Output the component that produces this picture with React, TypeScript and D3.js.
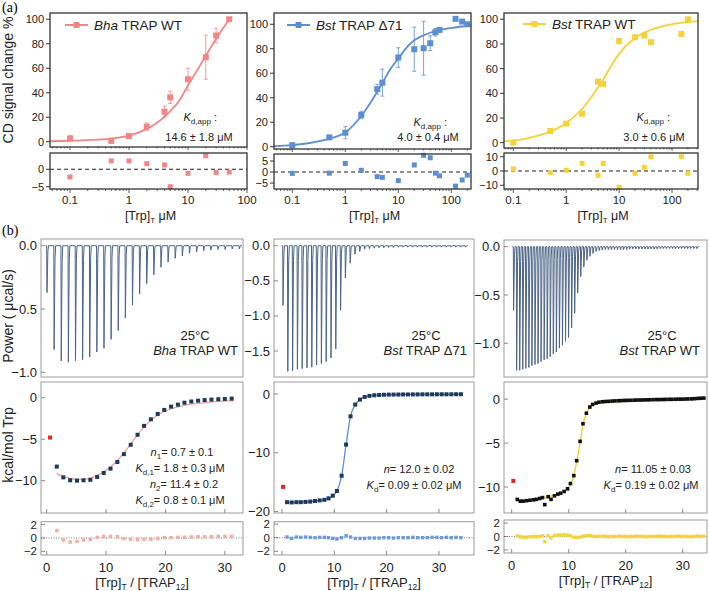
import React from 'react';
import * as d3 from 'd3';

const SANS = '"Liberation Sans", Arial, Helvetica, sans-serif';
const SERIF = '"Liberation Serif", "Times New Roman", serif';
const MINUS = '\u2212';
const fmt = (v: number, digits = 0) => (v < 0 ? MINUS : '') + Math.abs(v).toFixed(digits);

// ---------------- (a) CD titrations ----------------
const bhaConc = [0.1, 0.5, 1, 2, 4, 5, 10, 20, 30, 50];
const bhaSignal = [2.7, 0.8, 4.6, 12.3, 24.5, 36.2, 51, 69, 86.7, 100];
const bhaError = [2, 2, 2, 3, 4.5, 5, 9, 18, 6, 0];
const bhaResidual = [-2.2, 2.4, 2.4, 1.6, 1.25, -5.0, -1.15, 3.9, -0.9, -0.8];
const bhaFitConc = [0.046, 0.1, 0.2, 0.5, 1, 2, 3, 5, 7, 10, 15, 20, 30, 50];
const bhaFitSignal = [0.4, 0.8, 1.3, 2.6, 5.0, 10.5, 15.5, 25, 33, 46, 60, 70, 84, 100];

const d71Conc = [0.1, 0.5, 1, 2, 4, 5, 10, 20, 30, 40, 50, 60, 120, 160, 200];
const d71Signal = [1.1, 7.6, 11.4, 25.9, 46.9, 52.3, 72.8, 79.6, 80.4, 84.5, 93.5, 95.4, 104.4, 102.2, 100];
const d71Error = [2, 1, 5, 3, 4, 11, 8, 18, 22, 6, 3, 1.5, 0, 0, 0];
const d71Residual = [-0.6, -0.5, 3.9, 0.8, -2.1, -2.4, -3.9, 3.2, 7.6, 6.5, -0.5, -1.7, -6.4, -3.6, -1.4];
const d71FitConc = [0.045, 0.1, 0.2, 0.5, 1, 2, 3, 4, 5, 7, 10, 15, 20, 30, 50, 100, 235];
const d71FitSignal = [0.5, 1.2, 2.8, 6.5, 11.5, 25, 36, 45, 52, 63, 72, 82, 87, 91, 94.5, 97, 99];

const bstConc = [0.1, 0.5, 1, 2, 4, 5, 10, 20, 30, 40, 150, 200];
const bstSignal = [0, 9.5, 15.4, 23.5, 49.5, 47.6, 82.4, 85.4, 86.8, 81.4, 88.1, 100];
const bstResidual = [1.4, -1.2, 0.5, 5.3, -3.0, 5.3, -11.4, -1.6, 2.6, 10, 10, -1.6];
const bstFitConc = [0.067, 0.1, 0.2, 0.5, 1, 2, 3, 4, 5, 7, 10, 20, 40, 100, 310];
const bstFitSignal = [1.3, 1.8, 4, 9, 16, 27.5, 37, 45, 51, 62, 72, 85, 91.5, 96, 98.5];

// ---------------- (b) ITC ----------------
// raw injection peaks (µcal/s), one per injection
const bhaPower = [-0.37, -0.82, -0.91, -0.92, -0.91, -0.9, -0.88, -0.84, -0.81, -0.74, -0.67, -0.57, -0.47, -0.38,
  -0.3, -0.23, -0.17, -0.13, -0.1, -0.08, -0.06, -0.05, -0.04, -0.035, -0.03, -0.03, -0.025, -0.025];
const d71Power = [-0.85, -1.79, -1.78, -1.76, -1.75, -1.74, -1.73, -1.7, -1.68, -1.65, -1.6, -1.47, -0.92, -0.46,
  -0.25, -0.12, -0.08, -0.05, -0.04, -0.035, -0.03, -0.03, -0.025, -0.025, -0.02, -0.02, -0.02, -0.02, -0.02,
  -0.02, -0.02, -0.02, -0.02, -0.02, -0.02, -0.02, -0.02, -0.02, -0.02];
const bstPower = [-0.66, -1.28, -1.28, -1.27, -1.26, -1.25, -1.23, -1.22, -1.21, -1.19, -1.17, -1.16, -1.14, -1.11,
  -1.09, -1.05, -1.02, -0.98, -0.94, -0.84, -0.69, -0.48, -0.31, -0.21, -0.14, -0.1, -0.07, -0.05, -0.04, -0.035,
  -0.03, -0.03, -0.03, -0.03, -0.03, -0.03, -0.03, -0.03, -0.025, -0.025, -0.025, -0.025, -0.025, -0.025, -0.025,
  -0.025, -0.025, -0.025, -0.02, -0.02, -0.02, -0.02, -0.02, -0.02, -0.02, -0.02, -0.02, -0.02, -0.02, -0.02, -0.02];

// integrated heats (kcal/mol Trp) vs molar ratio; first injection drawn red
const bhaRatio = [1.7, 2.8, 3.95, 5.1, 6.2, 7.35, 8.5, 9.6, 10.75, 11.9, 13.0, 14.15, 15.3, 16.4, 17.55, 18.7, 19.8,
  20.95, 22.1, 23.2, 24.35, 25.5, 26.6, 27.75, 28.9, 30.0, 31.15];
const bhaHeat = [-8.3, -9.6, -9.95, -10.0, -9.95, -9.9, -9.55, -9.07, -8.55, -7.75, -6.8, -5.67, -4.47, -3.39, -2.6,
  -1.95, -1.47, -1.07, -0.83, -0.6, -0.45, -0.35, -0.28, -0.22, -0.18, -0.14, -0.1];
const bhaFirst = [0.56, -4.8];
const bhaFitRatio = [1.7, 3, 4.5, 6, 7.5, 9, 10.5, 12, 13.5, 15, 16.5, 18, 19.5, 21, 23, 25, 27, 29, 31.5];
const bhaFitHeat = [-9.15, -9.55, -9.8, -9.85, -9.65, -9.2, -8.5, -7.5, -6.2, -4.75, -3.45, -2.45, -1.75, -1.3,
  -0.95, -0.72, -0.55, -0.44, -0.35];
const bhaItcResidual = [1.1, -0.3, -0.6, -0.5, -0.3, -0.2, 0.1, 0.25, 0.25, 0.2, -0.1, -0.2, -0.25, -0.2, -0.2,
  -0.05, 0.05, 0.05, 0.1, 0.1, 0.15, 0.2, 0.2, 0.2, 0.25, 0.25, 0.25];

const d71Ratio = [0.96, 1.85, 2.75, 3.6, 4.5, 5.4, 6.3, 7.2, 8.1, 8.9, 9.7, 10.5, 11.4, 12.25, 13.1, 14.0, 14.9,
  15.8, 16.72, 17.64, 18.56, 19.48, 20.4, 21.32, 22.24, 23.16, 24.08, 25.0, 25.92, 26.84, 27.76, 28.68, 29.6,
  30.52, 31.44, 32.36, 33.28, 34.2];
const d71Heat = [-18.4, -18.45, -18.4, -18.4, -18.35, -18.3, -18.2, -18.1, -18.0, -17.75, -17.3, -16.5, -13.9,
  -8.6, -3.8, -1.8, -0.95, -0.5, -0.32, -0.22, -0.16, -0.13, -0.11, -0.1, -0.09, -0.08, -0.08, -0.07, -0.07,
  -0.06, -0.06, -0.06, -0.05, -0.05, -0.05, -0.05, -0.04, -0.04];
const d71First = [0.2, -15.8];
const d71ItcResidual = [0.1, -0.1, 0.1, 0.05, 0.1, 0.05, 0, 0.05, 0.05, 0, -0.1, -0.2, 0, 0.3, 0.1, -0.1, -0.1,
  -0.1, -0.05, -0.05, -0.05, 0, 0, -0.05, 0, 0, 0, 0.05, 0, 0, 0, 0.05, 0.05, 0, 0.05, 0, 0.05, 0];

const bstRatio = [0.98, 1.5, 2.0, 2.6, 3.2, 3.8, 4.3, 4.9, 5.4, 5.8, 6.4, 6.9, 7.5, 8.1, 8.6, 9.2, 9.8, 10.3, 10.9,
  11.4, 12.0, 12.5, 13.1, 13.7, 14.2, 14.8, 15.3, 15.9, 16.4, 17.0, 17.6, 18.1, 18.7, 19.2, 19.8, 20.3, 20.9,
  21.5, 22.0, 22.6, 23.1, 23.7, 24.2, 24.8, 25.4, 25.9, 26.5, 27.0, 27.6, 28.1, 28.7, 29.3, 29.8, 30.4, 30.9,
  31.5, 32.0, 32.6, 33.1, 33.7];
const bstHeat = [-11.4, -11.6, -11.6, -11.55, -11.5, -11.45, -11.4, -11.3, -11.2, -12.0, -11.1, -11.4, -11.0,
  -10.8, -10.7, -10.5, -10.2, -9.6, -8.7, -7.0, -4.8, -2.8, -1.6, -0.9, -0.6, -0.45, -0.35, -0.3, -0.27, -0.25,
  -0.22, -0.2, -0.18, -0.17, -0.15, -0.14, -0.13, -0.12, -0.1, -0.1, -0.09, -0.08, -0.07, -0.06, -0.05, -0.05,
  -0.04, -0.03, -0.02, -0.02, -0.01, 0, 0, 0.01, 0.02, 0.03, 0.05, 0.08, 0.1, 0.12];
const bstFirst = [0.28, -9.3];
const bstFitRatio = [1, 3, 5, 7, 8.5, 9.5, 10.3, 10.9, 11.4, 12.0, 12.5, 13.1, 13.7, 14.5, 16, 18, 22, 26, 30, 34];
const bstFitHeat = [-11.55, -11.5, -11.3, -11.0, -10.7, -10.35, -9.7, -8.7, -7.1, -4.9, -2.9, -1.6, -0.95, -0.55,
  -0.3, -0.2, -0.1, -0.05, 0, 0.05];
const bstItcResidual = [0.1, -0.05, -0.1, -0.1, -0.05, 0, -0.05, 0, 0.1, -0.75, 0.1, -0.2, 0.15, 0.2, 0.2, 0.25,
  0.2, 0.1, -0.1, -0.15, -0.1, 0.05, 0.1, 0.1, 0.05, 0, 0, 0.05, 0, -0.05, 0, 0, 0.05, 0, 0, -0.05, 0, 0, 0.05, 0,
  0, -0.05, 0, 0, 0, 0.05, 0, 0, -0.05, 0, 0, 0.05, 0, 0, 0, -0.05, 0, 0.05, 0, 0.05];

const itcXTicks = [0, 10, 20, 30];
const itcResidTicks = [2, 0, -2];

// ---------------- CD panel ----------------
type CdProps = {
  x0: number; x1: number; top: number; bottom: number; rTop: number; rBottom: number;
  xDomain: [number, number]; yDomain: [number, number]; rDomain: [number, number]; rTicks: number[];
  color: string; conc: number[]; signal: number[]; error?: number[]; residual: number[];
  fitConc: number[]; fitSignal: number[];
  species: string; variant: string; legendX: number; legendY: number;
  kdEndX: number; kdY: number; kdValue: string; kdValueX: number;
};

function CdPanel(p: CdProps) {
  const x = d3.scaleLog().domain(p.xDomain).range([p.x0, p.x1]);
  const y = d3.scaleLinear().domain(p.yDomain).range([p.bottom, p.top]);
  const r = d3.scaleLinear().domain(p.rDomain).range([p.rBottom, p.rTop]);
  const xTicks = x.ticks();
  const isMajor = (t: number) => Math.abs(Math.log10(t) - Math.round(Math.log10(t))) < 1e-9;
  const fit = d3.line<number>()
    .x(d => x(d))
    .y((_, i) => y(p.fitSignal[i]))
    .curve(d3.curveMonotoneX)(p.fitConc);
  const ink = '#333';
  const s = 6;
  const midX = (p.x0 + p.x1) / 2;

  return (
    <g fontFamily={SANS} fill="#222">
      {/* upper plot */}
      {y.ticks(5).map(t => (
        <g key={'y' + t}>
          <line x1={p.x0 - 4} x2={p.x0} y1={y(t)} y2={y(t)} stroke={ink} />
          <text x={p.x0 - 6} y={y(t) + 4} fontSize={11} textAnchor="end">{t}</text>
        </g>
      ))}
      {xTicks.map((t, i) => (
        <line key={'xu' + i} x1={x(t)} x2={x(t)} y1={p.bottom} y2={p.bottom + (isMajor(t) ? 3 : 1.5)} stroke={ink} strokeWidth={0.8} />
      ))}
      <path d={fit || ''} fill="none" stroke={p.color} strokeWidth={1.8} />
      {p.error && p.conc.map((c, i) => p.error![i] > 0 ? (
        <g key={'e' + i} stroke={p.color} strokeWidth={1} opacity={0.8}>
          <line x1={x(c)} x2={x(c)} y1={y(p.signal[i] - p.error![i])} y2={y(p.signal[i] + p.error![i])} />
          <line x1={x(c) - 2} x2={x(c) + 2} y1={y(p.signal[i] - p.error![i])} y2={y(p.signal[i] - p.error![i])} />
          <line x1={x(c) - 2} x2={x(c) + 2} y1={y(p.signal[i] + p.error![i])} y2={y(p.signal[i] + p.error![i])} />
        </g>
      ) : null)}
      {p.conc.map((c, i) => (
        <rect key={'p' + i} x={x(c) - s / 2} y={y(p.signal[i]) - s / 2} width={s} height={s} fill={p.color} />
      ))}
      <rect x={p.x0} y={p.top} width={p.x1 - p.x0} height={p.bottom - p.top} fill="none" stroke={ink} strokeWidth={1.3} />

      {/* legend */}
      <line x1={p.legendX} x2={p.legendX + 23} y1={p.legendY} y2={p.legendY} stroke={p.color} strokeWidth={2} />
      <rect x={p.legendX + 11.5 - s / 2} y={p.legendY - s / 2} width={s} height={s} fill={p.color} />
      <text x={p.legendX + 29} y={p.legendY + 5} fontSize={13.5}>
        <tspan fontStyle="italic">{p.species}</tspan> {p.variant}
      </text>

      {/* Kd */}
      <text x={p.kdEndX} y={p.kdY} fontSize={11} textAnchor="end">
        <tspan fontStyle="italic">K</tspan>
        <tspan fontSize={8} dy={3}>d,app</tspan>
        <tspan dy={-3}> :</tspan>
      </text>
      <text x={p.kdValueX} y={141} fontSize={11} textAnchor="middle">{p.kdValue}</text>

      {/* residuals */}
      {p.rTicks.map(t => (
        <g key={'r' + t}>
          <line x1={p.x0 - 4} x2={p.x0} y1={r(t)} y2={r(t)} stroke={ink} />
          <text x={p.x0 - 6} y={r(t) + 4} fontSize={11} textAnchor="end">{fmt(t)}</text>
        </g>
      ))}
      <line x1={p.x0} x2={p.x1} y1={r(0)} y2={r(0)} stroke="#222" strokeDasharray="4,3" strokeWidth={1.1} />
      {p.conc.map((c, i) => (
        <rect key={'rp' + i} x={x(c) - 2.5} y={r(p.residual[i]) - 2.5} width={5} height={5} fill={p.color} />
      ))}
      <rect x={p.x0} y={p.rTop} width={p.x1 - p.x0} height={p.rBottom - p.rTop} fill="none" stroke={ink} strokeWidth={1.3} />
      {xTicks.map((t, i) => (
        <line key={'xb' + i} x1={x(t)} x2={x(t)} y1={p.rBottom} y2={p.rBottom + (isMajor(t) ? 4 : 2)} stroke={ink} strokeWidth={0.8} />
      ))}
      {xTicks.filter(isMajor).map(t => (
        <text key={'xl' + t} x={x(t)} y={204} fontSize={11.5} textAnchor="middle">{t < 1 ? t.toFixed(1) : t}</text>
      ))}
      <text x={midX + 2} y={219.5} fontSize={12.5} textAnchor="middle">
        [Trp]<tspan fontSize={8} dy={3}>T</tspan><tspan dy={-3}> μM</tspan>
      </text>
    </g>
  );
}

// ---------------- ITC panel ----------------
type ItcProps = {
  x0: number; x1: number; tTop: number; tBottom: number; mTop: number; mBottom: number; rTop: number; rBottom: number;
  tDomain: [number, number]; tTicks: number[]; tFirst: number; tLast: number; power: number[];
  xDomain: [number, number]; mDomain: [number, number]; mTicks: number[]; rDomain: [number, number];
  ratio: number[]; heat: number[]; first: number[]; fitRatio: number[]; fitHeat: number[];
  fitColor: string; dotColor: string; dot: number; residual: number[]; residColor: string;
  species: string; variant: string; tempX: number; nameEndX: number;
  annotation: React.ReactNode;
};

function ItcPanel(p: ItcProps) {
  const frame = '#9c9c9c';
  const tickInk = '#8a8a8a';
  const w = p.x1 - p.x0;
  const tx = d3.scaleLinear().domain([0, p.power.length - 1]).range([p.tFirst, p.tLast]);
  const ty = d3.scaleLinear().domain(p.tDomain).range([p.tBottom, p.tTop]);
  const x = d3.scaleLinear().domain(p.xDomain).range([p.x0, p.x1]);
  const y = d3.scaleLinear().domain(p.mDomain).range([p.mBottom, p.mTop]);
  const r = d3.scaleLinear().domain(p.rDomain).range([p.rBottom, p.rTop]);

  // thermogram trace: baseline with a narrow dip for every injection
  const trace: [number, number][] = [[tx(0) - 1, ty(0)]];
  p.power.forEach((v, i) => {
    const cx = tx(i);
    trace.push([cx, ty(0)], [cx + 0.3, ty(v)], [cx + 1.2, ty(v * 0.12)], [cx + 1.8, ty(0)]);
  });
  trace.push([tx(p.power.length - 1) + 3, ty(0)]);
  const tracePath = d3.line()(trace);

  const fit = d3.line<number>()
    .x(d => x(d))
    .y((_, i) => y(p.fitHeat[i]))
    .curve(d3.curveMonotoneX)(p.fitRatio);

  const yTickLabels = (scale: d3.ScaleLinear<number, number>, ticks: number[], digits: number, key: string, size = 13) =>
    ticks.map(t => (
      <g key={key + t}>
        <line x1={p.x0} x2={p.x0 + 4} y1={scale(t)} y2={scale(t)} stroke={tickInk} />
        <text x={p.x0 - 4} y={scale(t) + size * 0.35} fontSize={size} textAnchor="end">{fmt(t, digits)}</text>
      </g>
    ));

  return (
    <g fontFamily={SANS} fill="#222">
      {/* thermogram */}
      <rect x={p.x0} y={p.tTop} width={w} height={p.tBottom - p.tTop} fill="none" stroke={frame} />
      {yTickLabels(ty, p.tTicks, 1, 't')}
      <path d={tracePath || ''} fill="none" stroke="#4c6487" strokeWidth={1} />
      <text x={p.tempX} y={340} fontSize={13} textAnchor="middle">25°C</text>
      <text x={p.nameEndX} y={355} fontSize={13} textAnchor="end">
        <tspan fontStyle="italic">{p.species}</tspan> {p.variant}
      </text>

      {/* integrated heats */}
      <rect x={p.x0} y={p.mTop} width={w} height={p.mBottom - p.mTop} fill="none" stroke={frame} />
      {yTickLabels(y, p.mTicks, 0, 'm')}
      {itcXTicks.map(t => (
        <line key={'mx' + t} x1={x(t)} x2={x(t)} y1={p.mBottom} y2={p.mBottom - 4} stroke={tickInk} />
      ))}
      <path d={fit || ''} fill="none" stroke={p.fitColor} strokeWidth={1.3} />
      {p.ratio.map((v, i) => (
        <rect key={'h' + i} x={x(v) - p.dot / 2} y={y(p.heat[i]) - p.dot / 2} width={p.dot} height={p.dot} fill={p.dotColor} />
      ))}
      <rect x={x(p.first[0]) - 2} y={y(p.first[1]) - 2} width={4} height={4} fill="#e8242a" />
      {p.annotation}

      {/* residuals */}
      <rect x={p.x0} y={p.rTop} width={w} height={p.rBottom - p.rTop} fill="none" stroke={frame} />
      {yTickLabels(r, itcResidTicks, 0, 'r', 11.5)}
      <line x1={p.x0} x2={p.x1} y1={r(0)} y2={r(0)} stroke="#555" strokeDasharray="1,1.5" strokeWidth={0.8} />
      {p.ratio.map((v, i) => (
        <rect key={'rr' + i} x={x(v) - 1.7} y={r(p.residual[i]) - 1.7} width={3.4} height={3.4} fill={p.residColor} />
      ))}
      {itcXTicks.map(t => (
        <g key={'rx' + t}>
          <line x1={x(t)} x2={x(t)} y1={p.rBottom} y2={p.rBottom - 4} stroke={tickInk} />
          <text x={x(t)} y={p.rBottom + 17} fontSize={13} textAnchor="middle">{t}</text>
        </g>
      ))}
      <text x={p.x0 + w / 2} y={p.rBottom + 32} fontSize={13} textAnchor="middle">
        [Trp]<tspan fontSize={8.5} dy={3}>T</tspan><tspan dy={-3}> / [TRAP</tspan>
        <tspan fontSize={8.5} dy={3}>12</tspan><tspan dy={-3}>]</tspan>
      </text>
    </g>
  );
}

const Sub = ({ children }: { children: React.ReactNode }) => <tspan fontSize={8} dy={3}>{children}</tspan>;

export default function App() {
  return (
    <svg width={709} height={591} style={{ position: 'absolute', left: 0, top: 0, background: '#fff' }}>
      <rect width={709} height={591} fill="#fff" />
      <text x={2} y={12} fontFamily={SERIF} fontSize={14}>(a)</text>
      <text x={2} y={235} fontFamily={SERIF} fontSize={14}>(b)</text>

      <text transform="translate(13,80) rotate(-90)" fontFamily={SANS} fontSize={14} textAnchor="middle" fill="#222">CD signal change %</text>
      <text transform="translate(13,316) rotate(-90)" fontFamily={SANS} fontSize={14} textAnchor="middle" fill="#222">Power ( μcal/s)</text>
      <text transform="translate(13,445) rotate(-90)" fontFamily={SANS} fontSize={14} textAnchor="middle" fill="#222">kcal/mol Trp</text>

      <CdPanel x0={50} x1={247} top={13} bottom={147} rTop={153} rBottom={189}
        xDomain={[0.0458, 100.01]} yDomain={[-4.3, 105.1]} rDomain={[-5.66, 4.68]} rTicks={[0, -5]}
        color="#f08686" conc={bhaConc} signal={bhaSignal} error={bhaError} residual={bhaResidual}
        fitConc={bhaFitConc} fitSignal={bhaFitSignal} species="Bha" variant="TRAP WT" legendX={65} legendY={25}
        kdEndX={217} kdY={121} kdValue="14.6 ± 1.8 μM" kdValueX={199} />
      <CdPanel x0={274} x1={471} top={13} bottom={149} rTop={154} rBottom={189}
        xDomain={[0.0452, 235]} yDomain={[-1.9, 109.2]} rDomain={[-7.7, 8.2]} rTicks={[5, 0, -5]}
        color="#5b8fd2" conc={d71Conc} signal={d71Signal} error={d71Error} residual={d71Residual}
        fitConc={d71FitConc} fitSignal={d71FitSignal} species="Bst" variant="TRAP Δ71" legendX={287} legendY={25}
        kdEndX={447} kdY={126} kdValue="4.0 ± 0.4 μM" kdValueX={428} />
      <CdPanel x0={504} x1={698} top={13} bottom={148} rTop={153} rBottom={189}
        xDomain={[0.0667, 310]} yDomain={[-4.3, 105.1]} rDomain={[-12.6, 12.6]} rTicks={[10, 0, -10]}
        color="#f4d33a" conc={bstConc} signal={bstSignal} residual={bstResidual}
        fitConc={bstFitConc} fitSignal={bstFitSignal} species="Bst" variant="TRAP WT" legendX={523} legendY={24}
        kdEndX={670} kdY={121} kdValue="3.0 ± 0.6 μM" kdValueX={654} />

      <ItcPanel x0={41} x1={243} tTop={239} tBottom={377} mTop={382} mBottom={513} rTop={521.7} rBottom={555}
        tDomain={[-1.037, 0.053]} tTicks={[0, -0.5, -1]} tFirst={46.7} tLast={239} power={bhaPower}
        xDomain={[-0.96, 33.06]} mDomain={[-13.9, 1.9]} mTicks={[0, -5, -10]} rDomain={[-2.54, 2.43]}
        ratio={bhaRatio} heat={bhaHeat} first={bhaFirst} fitRatio={bhaFitRatio} fitHeat={bhaFitHeat}
        fitColor="#f3a29a" dotColor="#1d3a5c" dot={4} residual={bhaItcResidual} residColor="#f5aaa2"
        species="Bha" variant="TRAP WT" tempX={195} nameEndX={238}
        annotation={
          <g fontSize={11} textAnchor="middle">
            <text x={182} y={456}><tspan fontStyle="italic">n</tspan><Sub>1</Sub><tspan dy={-3}>= 0.7 ± 0.1</tspan></text>
            <text x={180} y={472}><tspan fontStyle="italic">K</tspan><Sub>d,1</Sub><tspan dy={-3}>= 1.8 ± 0.3 μM</tspan></text>
            <text x={184} y={488}><tspan fontStyle="italic">n</tspan><Sub>2</Sub><tspan dy={-3}>= 11.4 ± 0.2</tspan></text>
            <text x={180} y={504}><tspan fontStyle="italic">K</tspan><Sub>d,2</Sub><tspan dy={-3}>= 0.8 ± 0.1 μM</tspan></text>
          </g>
        } />
      <ItcPanel x0={274} x1={474} tTop={239} tBottom={377} mTop={382} mBottom={513} rTop={521.7} rBottom={555}
        tDomain={[-1.87, 0.096]} tTicks={[0, -0.5, -1, -1.5]} tFirst={282.7} tLast={465} power={d71Power}
        xDomain={[-1.53, 36.7]} mDomain={[-20.24, 2.04]} mTicks={[0, -10, -20]} rDomain={[-2.54, 2.35]}
        ratio={d71Ratio} heat={d71Heat} first={d71First} fitRatio={d71Ratio} fitHeat={d71Heat}
        fitColor="#5d8fd3" dotColor="#1d3a5c" dot={4} residual={d71ItcResidual} residColor="#6e9ad8"
        species="Bst" variant="TRAP Δ71" tempX={426} nameEndX={467}
        annotation={
          <g fontSize={11} textAnchor="middle">
            <text x={419} y={473}><tspan fontStyle="italic">n</tspan>= 12.0 ± 0.02</text>
            <text x={414} y={489}><tspan fontStyle="italic">K</tspan><Sub>d</Sub><tspan dy={-3}>= 0.09 ± 0.02 μM</tspan></text>
          </g>
        } />
      <ItcPanel x0={504} x1={707} tTop={240} tBottom={377} mTop={382} mBottom={513} rTop={520} rBottom={553}
        tDomain={[-1.349, 0.069]} tTicks={[0, -0.5, -1]} tFirst={513.3} tLast={696.5} power={bstPower}
        xDomain={[-1.35, 34.26]} mDomain={[-12.95, 1.95]} mTicks={[0, -5, -10]} rDomain={[-2.46, 2.46]}
        ratio={bstRatio} heat={bstHeat} first={bstFirst} fitRatio={bstFitRatio} fitHeat={bstFitHeat}
        fitColor="#f0d024" dotColor="#111" dot={3.6} residual={bstItcResidual} residColor="#f0d43a"
        species="Bst" variant="TRAP WT" tempX={662} nameEndX={700}
        annotation={
          <g fontSize={11} textAnchor="middle">
            <text x={653} y={473}><tspan fontStyle="italic">n</tspan>= 11.05 ± 0.03</text>
            <text x={651} y={489}><tspan fontStyle="italic">K</tspan><Sub>d</Sub><tspan dy={-3}>= 0.19 ± 0.02 μM</tspan></text>
          </g>
        } />
    </svg>
  );
}
